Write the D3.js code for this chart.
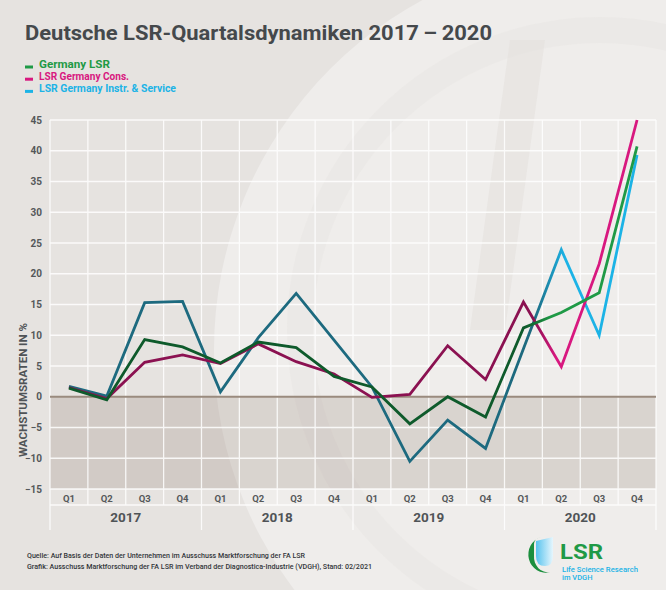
<!DOCTYPE html>
<html><head><meta charset="utf-8">
<script src="https://cdn.jsdelivr.net/npm/d3@7"></script>
<style>
html,body{margin:0;padding:0;background:#e6e3e0;}
svg{display:block;}
text{font-family:Roboto, "DejaVu Sans", sans-serif;}
</style></head>
<body>
<svg id="chart" width="666" height="590"></svg>
<script>
// ---- data ----
const years = ["2017", "2018", "2019", "2020"];
const quarterNames = ["Q1", "Q2", "Q3", "Q4"];
const germanyLSR = [1.4, -0.5, 9.3, 8.1, 5.5, 8.9, 8.0, 3.3, 1.6, -4.4, 0.0, -3.3, 11.2, 13.7, 16.9, 40.7];
const germanyCons = [1.5, -0.3, 5.6, 6.8, 5.4, 8.6, 5.7, 3.7, -0.1, 0.4, 8.3, 2.8, 15.4, 4.9, 21.6, 45.0];
const germanyInstr = [1.7, 0.1, 15.3, 15.5, 0.8, 9.6, 16.8, 9.2, 1.6, -10.5, -3.8, -8.4, 7.8, 23.9, 10.0, 39.3];
const yTicks = [-15, -10, -5, 0, 5, 10, 15, 20, 25, 30, 35, 40, 45];
const seriesNames = ["Germany LSR", "LSR Germany Cons.", "LSR Germany Instr. & Service"];

const keys = [];
years.forEach(y => quarterNames.forEach(q => keys.push(y + "-" + q)));

const svg = d3.select("#chart");
const W = 666, H = 590;
const L = 50, R = 656, T = 120, B = 489;

// ---- background decoration ----
svg.append("rect").attr("width", W).attr("height", H).attr("fill", "#e6e3e0");
svg.append("circle").attr("cx", 612).attr("cy", 350).attr("r", 398).attr("fill", "#efedeb");
svg.append("circle").attr("cx", 600).attr("cy", 330).attr("r", 300).attr("fill", "none")
  .attr("stroke", "#e6e3e0").attr("stroke-width", 26).attr("opacity", 0.35);
svg.append("path").attr("d", "M510,40 L545,40 L505,330 L470,330 Z").attr("fill", "#e4e1de").attr("opacity", 0.6);

const x = d3.scaleBand().domain(keys).range([L, R]).padding(0);
const y = d3.scaleLinear().domain([-15, 45]).range([B, T]);
const bw = x.bandwidth();

// negative area
svg.append("rect").attr("x", L).attr("y", y(0)).attr("width", R - L).attr("height", y(-15) - y(0))
  .attr("fill", "rgb(110,88,72)").attr("opacity", 0.17);

// grid
const grid = svg.append("g").attr("stroke", "#ffffff").attr("stroke-width", 1.3).attr("opacity", 0.85);
yTicks.forEach(t => {
  if (t === 0) return;
  grid.append("line").attr("x1", L).attr("x2", R).attr("y1", y(t)).attr("y2", y(t));
});
keys.forEach((k, i) => {
  grid.append("line").attr("x1", x(k)).attr("x2", x(k)).attr("y1", T).attr("y2", 505);
});
grid.append("line").attr("x1", R).attr("x2", R).attr("y1", T).attr("y2", 505);
grid.append("line").attr("x1", L).attr("x2", R).attr("y1", 505).attr("y2", 505);
years.forEach((yr, i) => {
  const xx = x(yr + "-Q1");
  grid.append("line").attr("x1", xx).attr("x2", xx).attr("y1", 505).attr("y2", 530);
});
grid.append("line").attr("x1", R).attr("x2", R).attr("y1", 505).attr("y2", 530);

// zero line
svg.append("line").attr("x1", L).attr("x2", R).attr("y1", y(0)).attr("y2", y(0))
  .attr("stroke", "#9a8b7e").attr("stroke-width", 2);

// y tick labels
const yAxis = d3.axisLeft(y).tickValues(yTicks).tickSize(0).tickPadding(8);
const ya = svg.append("g").attr("transform", `translate(${L},0)`).call(yAxis);
ya.select(".domain").remove();
ya.selectAll("text").attr("font-size", 10).attr("font-weight", 700).attr("fill", "#55585a")
  .style("font-family", "Roboto, sans-serif");

// y title
svg.append("text").attr("transform", "translate(27,390) rotate(-90)")
  .attr("text-anchor", "middle").attr("font-size", 10).attr("font-weight", 700)
  .attr("fill", "#4f5356").attr("textLength", 134).attr("lengthAdjust", "spacingAndGlyphs")
  .text("WACHSTUMSRATEN IN %");

// x quarter labels
const xAxis = d3.axisBottom(x).tickSize(0).tickPadding(0).tickFormat(k => k.split("-")[1]);
const xa = svg.append("g").attr("transform", `translate(0,${B})`).call(xAxis);
xa.select(".domain").remove();
xa.selectAll("text").attr("font-size", 9.5).attr("font-weight", 700).attr("fill", "#55585a")
  .attr("y", 13).attr("dy", 0).style("font-family", "Roboto, sans-serif");

// year labels
years.forEach(yr => {
  const cx = x(yr + "-Q1") + bw * 2;
  svg.append("text").attr("x", cx).attr("y", 522).attr("text-anchor", "middle")
    .attr("font-size", 13.5).attr("font-weight", 700).attr("fill", "#505457").text(yr);
});

// gradients
const defs = svg.append("defs");
function grad(id, c1, c2, x1, x2) {
  const g = defs.append("linearGradient").attr("id", id).attr("gradientUnits", "userSpaceOnUse")
    .attr("x1", x1).attr("x2", x2).attr("y1", 0).attr("y2", 0);
  g.append("stop").attr("offset", 0).attr("stop-color", c1);
  g.append("stop").attr("offset", 1).attr("stop-color", c2);
}
const xq1 = x("2020-Q1") + bw / 2, xq2 = x("2020-Q2") + bw / 2;
grad("gInstr", "#1d6a7f", "#1cb3e6", xq1 + 10, xq2 + 4);
grad("gCons", "#8b1151", "#d8187f", xq1 + 10, xq2 - 5);
grad("gLSR", "#0e5a2b", "#1f9a46", xq1 + 2, xq2 - 10);

const line = d3.line().x((d, i) => x(keys[i]) + bw / 2).y(d => y(d));
[[germanyInstr, "gInstr"], [germanyCons, "gCons"], [germanyLSR, "gLSR"]].forEach(([data, g]) => {
  svg.append("path").datum(data).attr("d", line).attr("fill", "none")
    .attr("stroke", `url(#${g})`).attr("stroke-width", 2.8).attr("stroke-linejoin", "miter");
});

// title
svg.append("text").attr("x", 25).attr("y", 40).attr("font-size", 21).attr("font-weight", 700)
  .attr("fill", "#45494c").attr("textLength", 467).attr("lengthAdjust", "spacingAndGlyphs")
  .text("Deutsche LSR-Quartalsdynamiken 2017\u2009\u2013\u20092020");

// legend
const legColors = ["#1f9a46", "#d8187f", "#1cb3e6"];
const legWidths = [71, 90, 137];
seriesNames.forEach((n, i) => {
  const by = 68 + i * 12.2;
  svg.append("rect").attr("x", 25).attr("y", by - 2.5).attr("width", 8).attr("height", 3).attr("fill", legColors[i]);
  svg.append("text").attr("x", 39).attr("y", by).attr("font-size", 10.5).attr("font-weight", 700)
    .attr("fill", legColors[i]).attr("textLength", legWidths[i]).attr("lengthAdjust", "spacingAndGlyphs").text(n);
});

// footer
svg.append("text").attr("x", 27).attr("y", 558).attr("font-size", 8).attr("font-weight", 500).attr("fill", "#33363a")
  .attr("textLength", 278).attr("lengthAdjust", "spacingAndGlyphs")
  .text("Quelle: Auf Basis der Daten der Unternehmen im Ausschuss Marktforschung der FA LSR");
svg.append("text").attr("x", 27).attr("y", 569).attr("font-size", 8).attr("font-weight", 500).attr("fill", "#33363a")
  .attr("textLength", 345).attr("lengthAdjust", "spacingAndGlyphs")
  .text("Grafik: Ausschuss Marktforschung der FA LSR im Verband der Diagnostica-Industrie (VDGH), Stand: 02/2021");

// logo
const lg = defs.append("linearGradient").attr("id", "tube").attr("x1", 0).attr("x2", 1).attr("y1", 0).attr("y2", 0);
lg.append("stop").attr("offset", 0).attr("stop-color", "#58c3ee");
lg.append("stop").attr("offset", 1).attr("stop-color", "#e6f6fd");
svg.append("path").attr("d", "M536,541 L553,537 L553,556 Q553,566 545,566 Q536,566 536,556 Z").attr("fill", "url(#tube)");
svg.append("path").attr("d", "M541,537 A17,18 0 1,0 550,572 A14,15 0 0,1 534,556 L534,544 Q534,539 541,537 Z").attr("fill", "#1c8f3e");
svg.append("text").attr("x", 560).attr("y", 559).attr("font-size", 21).attr("font-weight", 700).attr("fill", "#1f9a46")
  .attr("textLength", 43).attr("lengthAdjust", "spacingAndGlyphs").text("LSR");
svg.append("text").attr("x", 562).attr("y", 571.5).attr("font-size", 7.5).attr("font-weight", 500).attr("fill", "#1cb3e6")
  .attr("textLength", 76).attr("lengthAdjust", "spacingAndGlyphs").text("Life Science Research");
svg.append("text").attr("x", 562).attr("y", 579.5).attr("font-size", 7.5).attr("font-weight", 500).attr("fill", "#1cb3e6")
  .text("im VDGH");
</script>
</body></html>
